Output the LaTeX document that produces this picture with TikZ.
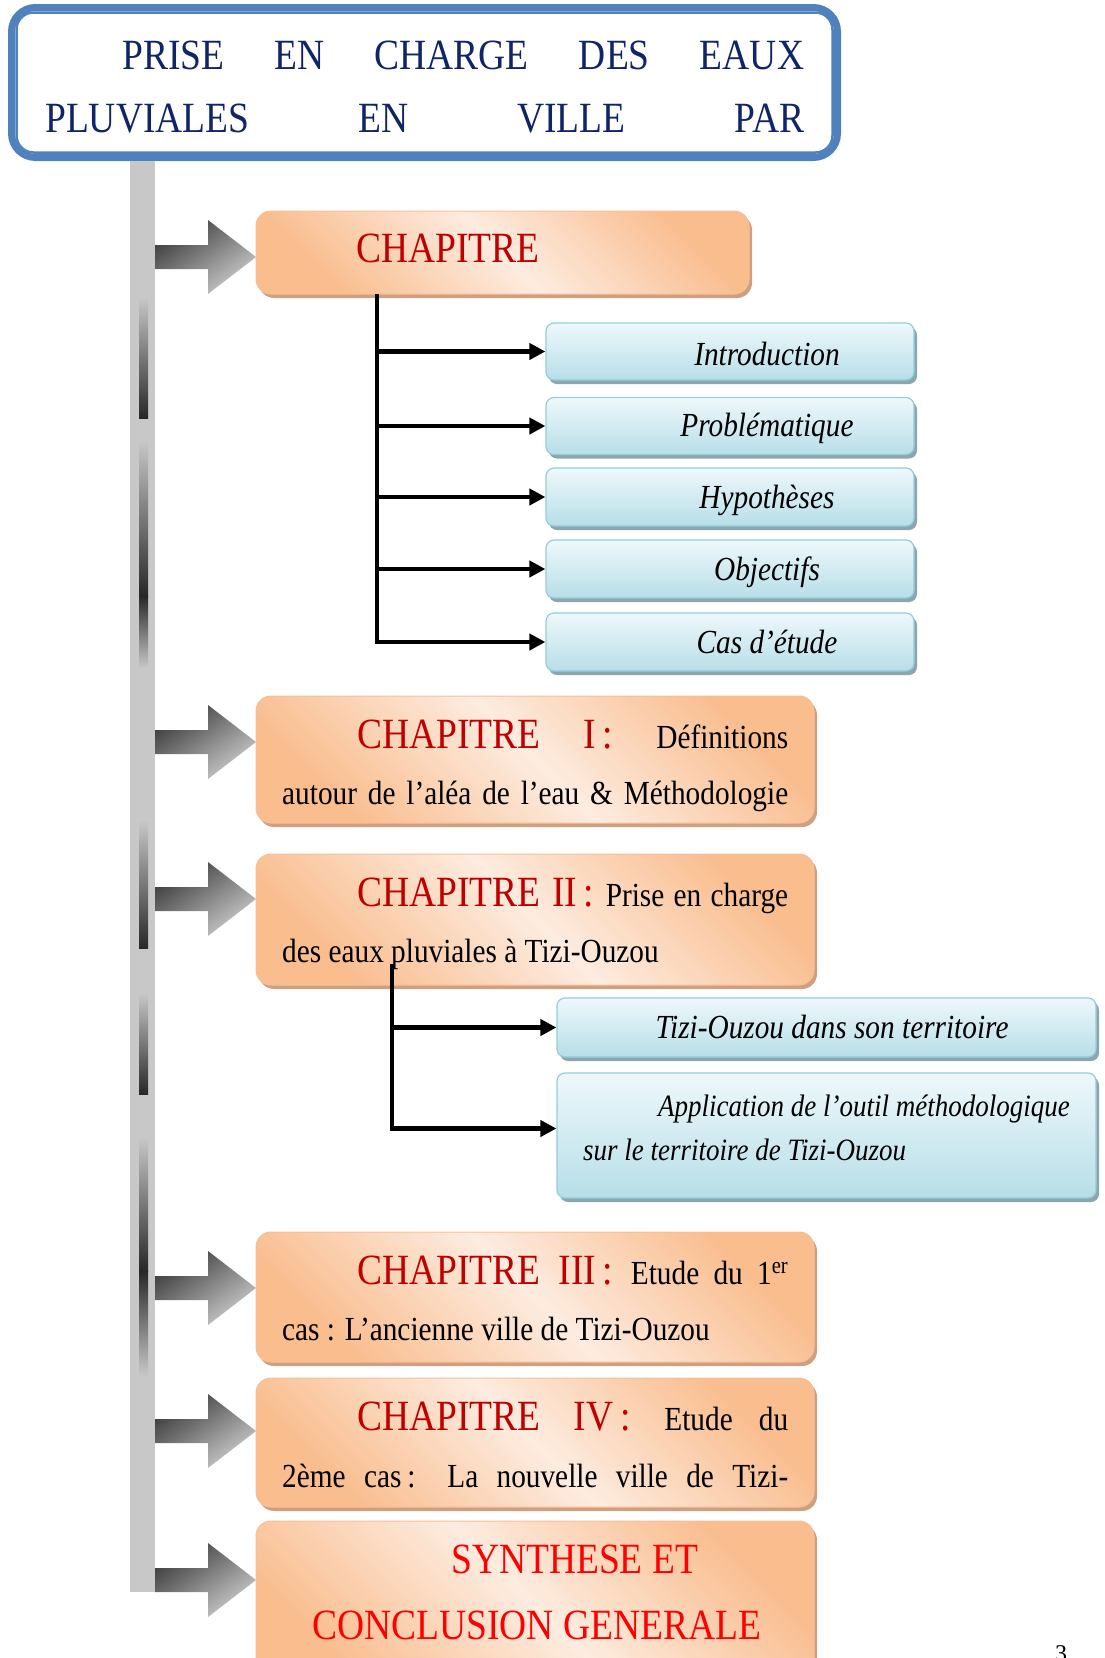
\documentclass[tikz,border=0pt]{standalone}
\usepackage{fontspec}
\setmainfont{Liberation Serif}
\usepackage{graphicx}
\usetikzlibrary{arrows.meta,shadows}

\definecolor{titleblue}{RGB}{79,129,189}
\definecolor{titlenavy}{RGB}{16,36,104}
\definecolor{chred}{RGB}{192,0,0}
\definecolor{synred}{RGB}{255,0,0}
\definecolor{orglight}{RGB}{253,236,224}
\definecolor{orgdark}{RGB}{249,189,142}
\definecolor{orgline}{RGB}{248,190,148}
\definecolor{orgshadow}{RGB}{206,160,128}
\definecolor{bluelight}{RGB}{238,248,251}
\definecolor{bluedark}{RGB}{183,222,232}
\definecolor{blueline}{RGB}{146,205,220}
\definecolor{blueshadow}{RGB}{140,165,175}
\definecolor{barlight}{RGB}{200,200,200}
\definecolor{bardark}{RGB}{40,40,40}
\definecolor{arrdark}{RGB}{60,60,60}
\definecolor{arrlight}{RGB}{205,205,205}

\newcommand{\tallt}[1]{\scalebox{1}[1.15]{#1}}
\newcommand{\fsz}[1]{\fontsize{#1}{#1}\selectfont}

\begin{document}
\begin{tikzpicture}[x=1pt,y=-1pt,
    titlebox/.style={draw=titleblue, line width=7pt, rounded corners=24pt,
      minimum width=826pt, minimum height=150pt, inner sep=0pt},
    chbox/.style={draw=orgline, line width=1pt, rounded corners=15pt,
      top color=orgdark, bottom color=orgdark, middle color=orglight, shading angle=-45,
      drop shadow={shadow xshift=3pt, shadow yshift=-4pt, fill=orgshadow, opacity=1},
      minimum width=558pt, inner sep=0pt},
    subbox/.style={draw=blueline, line width=1.2pt, rounded corners=8pt,
      top color=bluelight, bottom color=bluedark,
      drop shadow={shadow xshift=3pt, shadow yshift=-4pt, fill=blueshadow, opacity=1},
      inner sep=0pt},
    grayarrow/.style={top color=arrdark, bottom color=arrlight, shading angle=35},
    conn/.style={line width=4.5pt, -{Triangle[length=16pt,width=16pt]}},
    txt/.style={anchor=base west, inner sep=0pt},
    ctxt/.style={anchor=base, inner sep=0pt}]

    \useasboundingbox (0,0) rectangle (1105,1658);

    \node[titlebox] (T) at (424.5,82.5) {};
    \draw[titleblue, line width=2.5pt, rounded corners=17pt]
        ([shift={(8.5,8.5)}]T.north west) rectangle ([shift={(-8.5,-8.5)}]T.south east);
    \node[txt] (T1) at (122,69) {\tallt{\fsz{37.5}\color{titlenavy}\makebox[682pt][s]{PRISE EN CHARGE DES EAUX}}};
    \node[txt] (T2) at (45,132) {\tallt{\fsz{37.5}\color{titlenavy}\makebox[759pt][s]{PLUVIALES EN VILLE PAR}}};

    \fill[barlight] (130,161) rectangle (155,1592);
    \shade[top color=barlight, bottom color=bardark] (139,297) rectangle (148,418);
    \shade[top color=barlight, bottom color=bardark] (139,440) rectangle (148,596);
    \shade[top color=bardark, bottom color=barlight] (139,596) rectangle (148,668);
    \shade[top color=barlight, bottom color=bardark] (139,820) rectangle (148,948);
    \shade[top color=barlight, bottom color=bardark] (139,993) rectangle (148,1094);
    \shade[top color=barlight, bottom color=bardark] (139,1137) rectangle (148,1271);
    \shade[top color=bardark, bottom color=barlight] (139,1271) rectangle (148,1376);

    \foreach \yc in {257,742,899,1288,1431,1580}
        \shade[grayarrow] (155,\yc-12) -- (208,\yc-12) -- (208,\yc-37) -- (256,\yc)
            -- (208,\yc+37) -- (208,\yc+12) -- (155,\yc+12) -- cycle;

    \node[chbox, minimum width=493pt, minimum height=83pt] (C0) at (502.5,252.5) {};
    \node[chbox, minimum height=127pt] (C1) at (535,759.5) {};
    \node[chbox, minimum height=131pt] (C2) at (535,919.5) {};
    \node[chbox, minimum height=130pt] (C3) at (535,1297) {};
    \node[chbox, minimum height=129pt] (C4) at (535,1442.5) {};
    \node[chbox, minimum height=169pt] (C5) at (535,1605.5) {};

    \node[txt] (C0a) at (356,262) {\tallt{\fsz{37.5}\color{chred}CHAPITRE}};
    \node[txt] (C1a) at (357,748) {\tallt{\makebox[431pt][s]{\fsz{37.5}{\color{chred}CHAPITRE I\hspace{7pt}:} \fsz{29.3}Définitions}}};
    \node[txt] (C1b) at (282,804) {\tallt{\fsz{29.3}\makebox[506pt][s]{autour de l’aléa de l’eau \& Méthodologie}}};
    \node[txt] (C2a) at (357,906) {\tallt{\makebox[431pt][s]{\fsz{37.5}{\color{chred}CHAPITRE II\hspace{6pt}:} \fsz{29.3}Prise en charge}}};
    \node[txt] (C2b) at (282,962) {\tallt{\fsz{29.3}des eaux pluviales à Tizi-Ouzou}};
    \node[txt] (C3a) at (357,1284) {\tallt{\makebox[431pt][s]{\fsz{37.5}{\color{chred}CHAPITRE III\hspace{6pt}:} \fsz{29.3}Etude du 1\textsuperscript{er}}}};
    \node[txt] (C3b) at (282,1340) {\tallt{\fsz{29.3}cas : L’ancienne ville de Tizi-Ouzou}};
    \node[txt] (C4a) at (357,1430) {\tallt{\makebox[431pt][s]{\fsz{37.5}{\color{chred}CHAPITRE IV\hspace{7pt}:} \fsz{29.3}Etude du}}};
    \node[txt] (C4b) at (282,1487) {\tallt{\fsz{29.3}\makebox[506pt][s]{2ème cas\hspace{6pt}: La nouvelle ville de Tizi-}}};
    \node[txt] (C5a) at (451,1573) {\tallt{\fsz{37.5}\color{synred}SYNTHESE ET}};
    \node[txt] (C5b) at (312,1639) {\tallt{\fsz{37.5}\color{synred}CONCLUSION GENERALE}};

    \node[subbox, minimum width=368pt, minimum height=57pt] (S1) at (730,351.5) {};
    \node[subbox, minimum width=368pt, minimum height=57pt] (S2) at (730,426) {};
    \node[subbox, minimum width=368pt, minimum height=58pt] (S3) at (730,497) {};
    \node[subbox, minimum width=368pt, minimum height=58pt] (S4) at (730,569) {};
    \node[subbox, minimum width=368pt, minimum height=58pt] (S5) at (730,642) {};
    \node[subbox, minimum width=539pt, minimum height=59pt] (S6) at (826.5,1027.5) {};
    \node[subbox, minimum width=539pt, minimum height=125pt] (S7) at (826.5,1135.5) {};

    \node[ctxt] (S1a) at (767,365) {\tallt{\fsz{29.3}\itshape Introduction}};
    \node[ctxt] (S2a) at (767,436) {\tallt{\fsz{29.3}\itshape Problématique}};
    \node[ctxt] (S3a) at (767,508) {\tallt{\fsz{29.3}\itshape Hypothèses}};
    \node[ctxt] (S4a) at (767,580) {\tallt{\fsz{29.3}\itshape Objectifs}};
    \node[ctxt] (S5a) at (767,653) {\tallt{\fsz{29.3}\itshape Cas d’étude}};
    \node[ctxt] (S6a) at (832,1038) {\tallt{\fsz{29.3}\itshape Tizi-Ouzou dans son territoire}};
    \node[txt] (S7a) at (658,1116) {\tallt{\fsz{27}\itshape Application de l’outil méthodologique}};
    \node[txt] (S7b) at (583,1160) {\tallt{\fsz{27}\itshape sur le territoire de Tizi-Ouzou}};

    \coordinate (J1) at (377,294);
    \coordinate (J2) at (392,964);
    \path[draw,conn] (J1) |- (S1.west);
    \path[draw,conn] (J1) |- (S2.west);
    \path[draw,conn] (J1) |- (S3.west);
    \path[draw,conn] (J1) |- (S4.west);
    \path[draw,conn] (J1) |- (S5.west);
    \path[draw,conn] (J2) |- (S6.west);
    \path[draw,conn] (J2) |- ([yshift=7pt]S7.west);

    \node[anchor=north, inner sep=0pt] (P) at (1061,1645) {\fsz{24}3};

\end{tikzpicture}
\end{document}
